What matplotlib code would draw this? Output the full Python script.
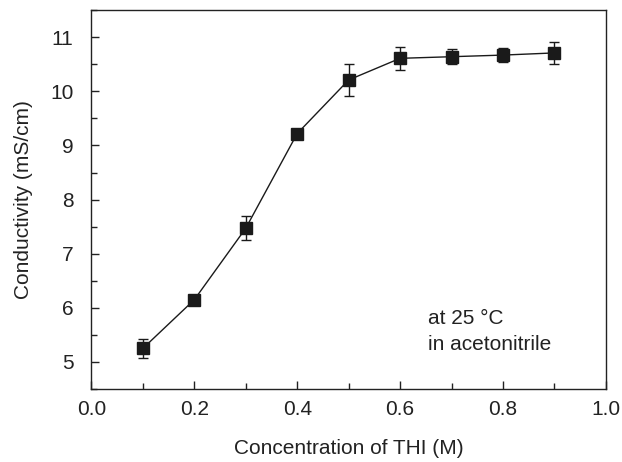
import numpy as np
import matplotlib.pyplot as plt
from matplotlib.ticker import MultipleLocator

plt.rcParams['font.family'] = ['Liberation Sans', 'DejaVu Sans']

# Data
conc = [0.1, 0.2, 0.3, 0.4, 0.5, 0.6, 0.7, 0.8, 0.9]
conductivity = [5.25, 6.15, 7.47, 9.22, 10.21, 10.61, 10.64, 10.67, 10.71]
err = [0.17, 0.05, 0.22, 0.05, 0.30, 0.21, 0.14, 0.13, 0.20]

fig = plt.figure(figsize=(6.22, 4.62), dpi=100)
ax = fig.add_axes([0.147, 0.158, 0.827, 0.820])

ax.errorbar(conc, conductivity, yerr=err, fmt='s-', color='#1a1a1a',
            markersize=9, linewidth=1, elinewidth=1, capsize=3.5, capthick=1)

ax.set_xlim(0.0, 1.0)
ax.set_ylim(4.5, 11.5)
ax.xaxis.set_major_locator(MultipleLocator(0.2))
ax.xaxis.set_minor_locator(MultipleLocator(0.1))
ax.yaxis.set_major_locator(MultipleLocator(1))
ax.yaxis.set_minor_locator(MultipleLocator(0.5))
ax.xaxis.set_major_formatter(plt.FormatStrFormatter('%.1f'))
ax.tick_params(which='both', direction='in', top=False, right=False,
               labelsize=15, color='#222222', labelcolor='#222222')
ax.tick_params(which='major', length=6, width=1)
ax.tick_params(which='minor', length=4, width=1)
ax.tick_params(axis='x', which='major', pad=8)
ax.tick_params(axis='y', which='major', pad=13)

for s in ax.spines.values():
    s.set_linewidth(1)
    s.set_color('#222222')

ax.set_xlabel('Concentration of THI (M)', fontsize=15, color='#222222', labelpad=14)
ax.set_ylabel('Conductivity (mS/cm)', fontsize=15, color='#222222', labelpad=12)

ax.text(0.654, 5.80, 'at 25 °C', fontsize=15, color='#222222', va='center')
ax.text(0.654, 5.33, 'in acetonitrile', fontsize=15, color='#222222', va='center')

fig.savefig('out.png', dpi=100)
